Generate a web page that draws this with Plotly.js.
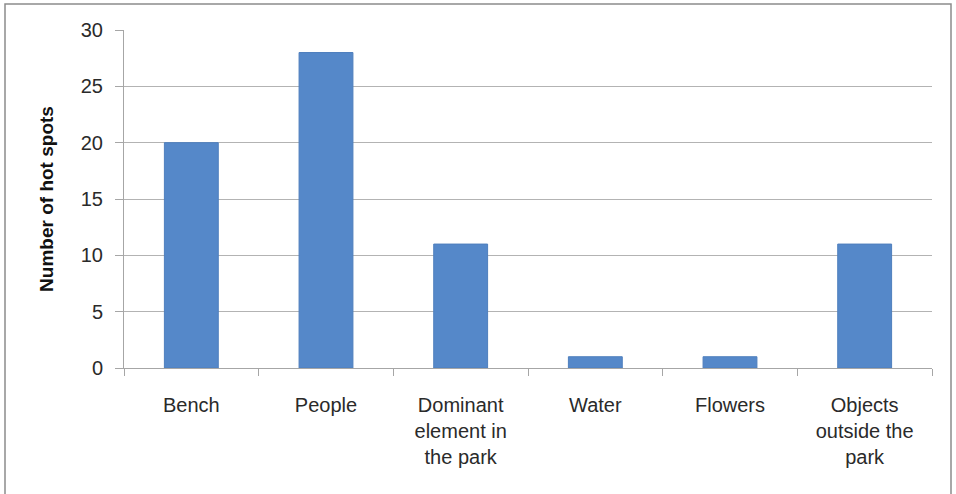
<!DOCTYPE html>
<html>
<head>
<meta charset="utf-8">
<script src="https://cdn.plot.ly/plotly-3.0.1.min.js"></script>
<style>
html,body{margin:0;padding:0;background:#fff;}
#chart{width:956px;height:494px;}
</style>
</head>
<body>
<div id="chart"></div>
<script>
const categories = ["Bench", "People", "Dominant<br>element in<br>the park", "Water", "Flowers", "Objects<br>outside the<br>park"];
const hotSpots = [20, 28, 11, 1, 1, 11];
const yTickVals = [0, 5, 10, 15, 20, 25, 30];
const yTitle = "Number of hot spots";

const L = 124, R = 24, T = 30, B = 126, W = 956, H = 494;
const pw = W - L - R, ph = H - T - B;
const px = v => (v - L) / pw;
const py = v => 1 - (v - T) / ph;

const trace = {
  type: "bar",
  x: categories,
  y: hotSpots,
  marker: { color: "#5588C9", line: { color: "#4F7FBD", width: 1 } },
  hoverinfo: "x+y"
};

const layout = {
  width: W, height: H,
  margin: { l: L, r: R, t: T, b: B, pad: 0 },
  paper_bgcolor: "#ffffff",
  plot_bgcolor: "#ffffff",
  font: { family: "Liberation Sans, Arial, sans-serif", size: 20, color: "#2a2a2a" },
  showlegend: false,
  bargap: 0.6,
  xaxis: {
    type: "category",
    tickson: "boundaries",
    ticks: "outside",
    ticklen: 7,
    tickcolor: "#a6a6a6",
    showline: true,
    linecolor: "#a6a6a6",
    linewidth: 1,
    showgrid: false,
    zeroline: false,
    tickangle: 0,
    ticklabelstandoff: 19,
    tickfont: { size: 20, color: "#2a2a2a" },
    automargin: false
  },
  yaxis: {
    range: [0, 30],
    tickvals: yTickVals,
    ticks: "outside",
    ticklen: 8,
    tickcolor: "#a6a6a6",
    showline: true,
    linecolor: "#a6a6a6",
    linewidth: 1,
    showgrid: true,
    gridcolor: "#b3b3b3",
    gridwidth: 1,
    zeroline: false,
    ticklabelstandoff: 8,
    tickfont: { size: 20, color: "#2a2a2a" },
    title: { text: yTitle, font: { size: 19, color: "#111", weight: "bold" }, standoff: 22 },
    automargin: false
  },
  shapes: [{
    type: "rect", xref: "paper", yref: "paper",
    x0: px(5), x1: px(951), y0: py(4), y1: py(520),
    line: { color: "#8c8c8c", width: 1.5 }, fillcolor: "rgba(0,0,0,0)", layer: "below"
  }]
};

Plotly.newPlot("chart", [trace], layout, { displayModeBar: false, staticPlot: true });
</script>
</body>
</html>
